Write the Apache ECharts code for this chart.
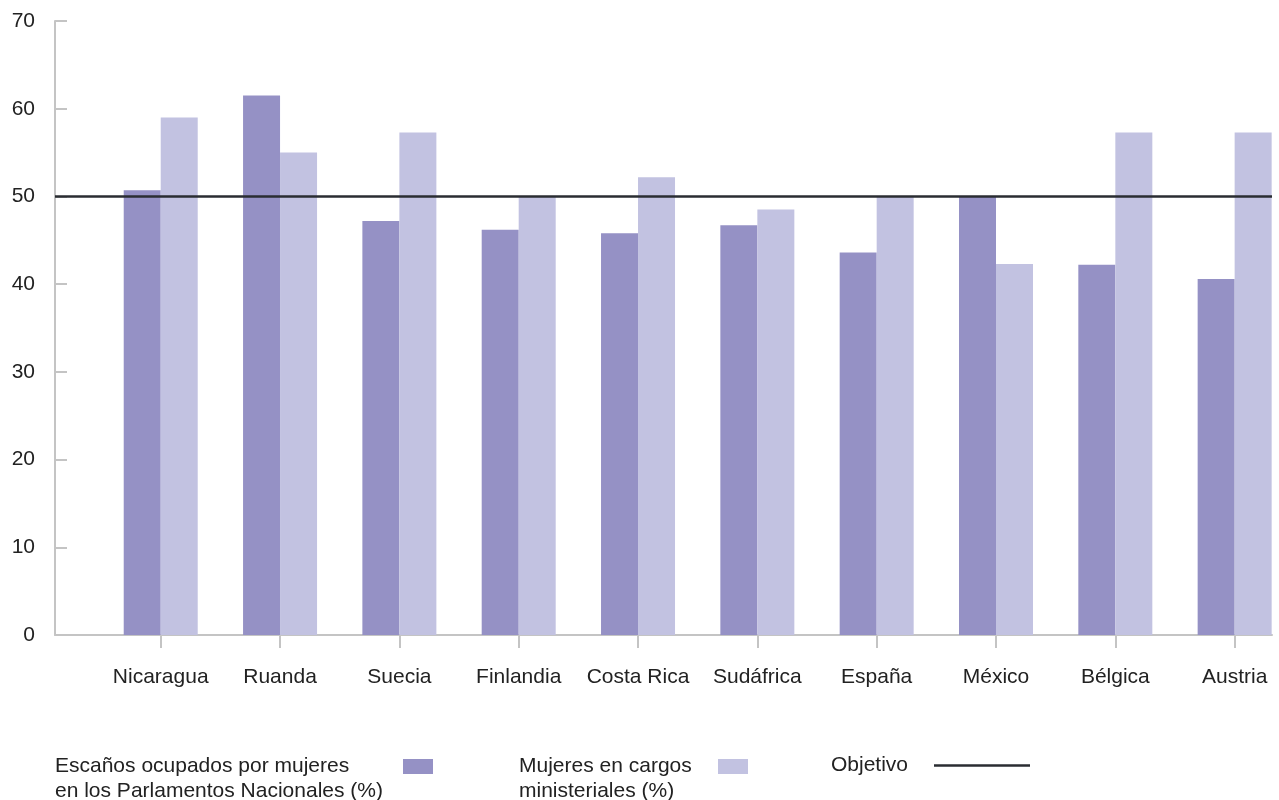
<!DOCTYPE html>
<html lang="es">
<head>
<meta charset="utf-8">
<title>Mujeres en parlamentos y cargos ministeriales</title>
<script src="https://cdn.jsdelivr.net/npm/echarts@6/dist/echarts.min.js"></script>
<style>
  html, body { margin: 0; padding: 0; background: #ffffff; }
  #chart { width: 1279px; height: 800px; }
</style>
</head>
<body>
<div id="chart"></div>
<script>
// Países
const categorias = ['Nicaragua', 'Ruanda', 'Suecia', 'Finlandia', 'Costa Rica', 'Sudáfrica', 'España', 'México', 'Bélgica', 'Austria'];
// Escaños ocupados por mujeres en los Parlamentos Nacionales (%)
const escanos = [50.7, 61.5, 47.2, 46.2, 45.8, 46.7, 43.6, 50.0, 42.2, 40.6];
// Mujeres en cargos ministeriales (%)
const ministeriales = [59.0, 55.0, 57.3, 50.0, 52.2, 48.5, 50.0, 42.3, 57.3, 57.3];
// Objetivo de paridad (%)
const objetivo = 50;
// Escala del eje vertical
const yMin = 0, yMax = 70, yPaso = 10;

// Textos de la leyenda, por renglón
const leyendaEscanos = ['Escaños ocupados por mujeres', 'en los Parlamentos Nacionales (%)'];
const leyendaMinisterios = ['Mujeres en cargos', 'ministeriales (%)'];
const leyendaObjetivo = ['Objetivo'];

const FUENTE = '"Liberation Sans", Arial, Helvetica, sans-serif';
const TEXTO = '#222222';
const GRIS = '#c4c4c4';
const OSCURO = '#9591c5';
const CLARO = '#c2c2e1';
const LINEA = '#2a2d32';

const nombreEscanos = leyendaEscanos.join(' ');
const nombreMinisterios = leyendaMinisterios.join(' ');
const nombreObjetivo = leyendaObjetivo.join(' ');

const indices = categorias.map((_, i) => i);

function leyenda(nombre, renglones, left, top, anchoTexto, iw, ih, padTop) {
  return {
    data: [{ name: nombre, icon: 'rect' }],
    left: left,
    top: top,
    orient: 'horizontal',
    align: 'right',
    padding: 0,
    itemWidth: iw,
    itemHeight: ih,
    selectedMode: false,
    formatter: () => renglones.map(r => '{t|' + r + '}').join('\n'),
    textStyle: {
      padding: [padTop, 0, 0, 0],
      rich: {
        t: {
          width: anchoTexto,
          align: 'left',
          fontFamily: FUENTE,
          fontSize: 21,
          lineHeight: 25,
          color: TEXTO
        }
      }
    }
  };
}

const chart = echarts.init(document.getElementById('chart'), null, { renderer: 'canvas' });

chart.setOption({
  animation: false,
  backgroundColor: '#ffffff',
  textStyle: { fontFamily: FUENTE },
  grid: { left: 55, right: 7, top: 21, bottom: 165, containLabel: false },
  xAxis: {
    type: 'value',
    min: -0.886,
    max: 9.313,
    splitLine: { show: false },
    axisLine: { show: true, onZero: false, lineStyle: { color: GRIS, width: 2 } },
    axisTick: { show: true, customValues: indices, length: 13, lineStyle: { color: GRIS, width: 2 } },
    axisLabel: {
      show: true,
      customValues: indices,
      formatter: v => categorias[Math.round(v)] || '',
      margin: 32,
      fontFamily: FUENTE,
      fontSize: 21,
      color: TEXTO
    }
  },
  yAxis: {
    type: 'value',
    min: yMin,
    max: yMax,
    interval: yPaso,
    splitLine: { show: false },
    axisLine: { show: true, onZero: false, lineStyle: { color: GRIS, width: 2 } },
    axisTick: { show: true, inside: true, length: 12, lineStyle: { color: GRIS, width: 2 } },
    axisLabel: { margin: 20, fontFamily: FUENTE, fontSize: 21, color: TEXTO }
  },
  legend: [
    leyenda(nombreEscanos, leyendaEscanos, 55, 756, 343, 30, 15, 25),
    leyenda(nombreMinisterios, leyendaMinisterios, 519, 756, 194, 30, 15, 25),
    leyenda(nombreObjetivo, leyendaObjetivo, 831, 755, 98, 96, 2.5, 0)
  ],
  series: [
    {
      name: nombreEscanos,
      type: 'bar',
      barWidth: 37,
      barGap: '0%',
      itemStyle: { color: OSCURO },
      data: escanos.map((v, i) => [i, v])
    },
    {
      name: nombreMinisterios,
      type: 'bar',
      barWidth: 37,
      barGap: '0%',
      itemStyle: { color: CLARO },
      data: ministeriales.map((v, i) => [i, v])
    },
    {
      name: nombreObjetivo,
      type: 'line',
      data: [],
      z: 5,
      itemStyle: { color: LINEA },
      lineStyle: { color: LINEA, width: 2.5 },
      markLine: {
        silent: true,
        symbol: ['none', 'none'],
        label: { show: false },
        lineStyle: { color: LINEA, width: 2.5, type: 'solid' },
        data: [{ yAxis: objetivo }]
      }
    }
  ]
});
</script>
</body>
</html>
